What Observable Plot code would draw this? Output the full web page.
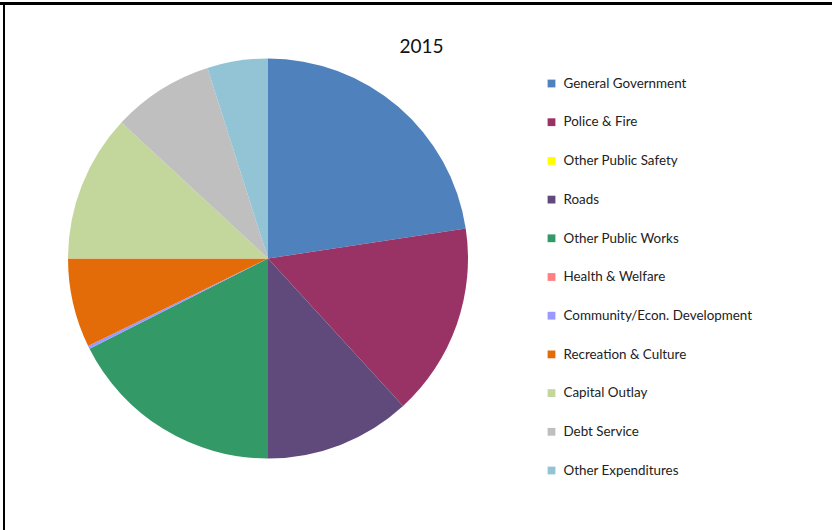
<!DOCTYPE html>
<html><head><meta charset="utf-8">
<script src="https://cdn.jsdelivr.net/npm/d3@7"></script>
<script src="https://cdn.jsdelivr.net/npm/@observablehq/plot@0.6"></script>
<style>
html,body{margin:0;padding:0;background:#fff;}
#wrap{position:relative;width:832px;height:530px;overflow:hidden;}
#chart{position:absolute;left:0;top:0;}
#topline{position:absolute;left:0;top:2px;width:832px;height:3px;background:#000;}
#leftline{position:absolute;left:3px;top:2px;width:2px;height:528px;background:#000;}
</style></head><body>
<div id="wrap"><div id="chart"></div><div id="topline"></div><div id="leftline"></div></div>
<script>
const title = "2015";
const categories = ["General Government","Police & Fire","Other Public Safety","Roads","Other Public Works","Health & Welfare","Community/Econ. Development","Recreation & Culture","Capital Outlay","Debt Service","Other Expenditures"];
const values = [22.6, 15.6, 0, 11.8, 17.55, 0, 0.25, 7.2, 11.9, 8.2, 4.9];
const colors = ["#4F81BD","#993366","#FFFF00","#604A7B","#339966","#FF8080","#9999FF","#E36C09","#C3D69B","#BFBFBF","#93C4D5"];

const data = categories.map((c, i) => ({category: c, value: values[i]}));
const arcs = d3.pie().sort(null).value(d => d.value)(data);
const color = Plot.scale({color: {type: "ordinal", domain: categories, range: colors}});

const cx = 268, cy = 258.5, R = 200;
const pieMark = () => {
  const g = d3.create("svg:g").attr("transform", `translate(${cx},${cy})`);
  const arc = d3.arc().innerRadius(0).outerRadius(R);
  g.selectAll("path").data(arcs.filter(a => a.endAngle > a.startAngle)).join("path")
    .attr("d", arc)
    .attr("fill", a => color.apply(a.data.category));
  return g.node();
};

const chart = Plot.plot({
  width: 832, height: 530,
  margin: 0,
  x: {type: "identity", axis: null},
  y: {type: "point", domain: categories, range: [83, 470], padding: 0, round: false, axis: null},
  color: {type: "ordinal", domain: categories, range: colors},
  style: {fontFamily: "Lato, 'Open Sans', sans-serif", background: "transparent"},
  marks: [
    pieMark,
    Plot.dot(data, {x: () => 551, y: "category", fill: "category", symbol: "square", r: 4.4}),
    Plot.text(data, {x: () => 563, y: "category", text: "category", textAnchor: "start", fontSize: 13.4, fill: "#222"}),
    Plot.text([title], {frameAnchor: "top-left", dx: 421, dy: 46, lineAnchor: "middle", text: d => d, textAnchor: "middle", fontSize: 19, fill: "#111"})
  ]
});
document.getElementById("chart").appendChild(chart);
</script>
</body></html>
